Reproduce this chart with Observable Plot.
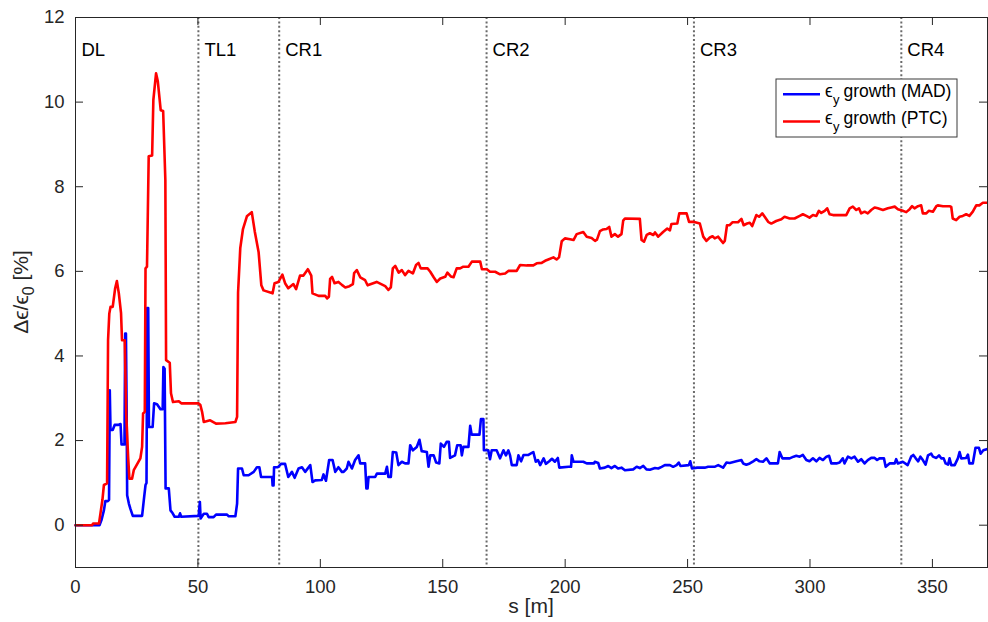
<!DOCTYPE html>
<html>
<head>
<meta charset="utf-8">
<script src="https://cdn.jsdelivr.net/npm/d3@7"></script>
<script src="https://cdn.jsdelivr.net/npm/@observablehq/plot@0.6"></script>
<style>
  html, body { margin: 0; padding: 0; background: #fff; }
  #chart { position: relative; width: 988px; height: 622px; }
</style>
</head>
<body>
<div id="chart"></div>
<script>
// ---- data ----
const xTicks = [0, 50, 100, 150, 200, 250, 300, 350];
const yTicks = [0, 2, 4, 6, 8, 10, 12];

const regionNames = ["DL", "TL1", "CR1", "CR2", "CR3", "CR4"];
const regionStarts = [0, 50.2, 83.2, 167.9, 252.6, 337.3];

const seriesNames = ["growth (MAD)", "growth (PTC)"];

// epsilon_y growth (MAD) — blue
const madS = [0, 9.8, 10.6, 11.6, 12.2, 13.2, 13.7, 14.0, 14.3, 14.6, 15.2, 16.0, 17.4, 18.4, 18.8, 20.0, 20.3, 20.6, 20.9, 21.1, 21.8, 22.4, 23.4, 27.2, 27.9, 28.6, 29.0, 29.3, 29.7, 30.0, 31.5, 32.1, 33.3, 34.7, 35.6, 35.9, 36.4, 36.8, 38.1, 38.8, 39.7, 40.5, 42.2, 42.7, 43.2, 50.3, 50.8, 51.1, 52.4, 53.7, 54.4, 56.4, 57.4, 61.9, 62.6, 65.3, 66.0, 66.4, 68.0, 68.7, 70.7, 72.8, 74.1, 75.1, 75.8, 79.5, 80.3, 80.5, 80.9, 81.1, 82.7, 84.0, 85.6, 86.9, 88.4, 89.5, 91.1, 92.5, 93.8, 95.9, 96.8, 97.9, 100.6, 101.3, 102.3, 103.6, 105.0, 106.1, 107.4, 108.8, 109.5, 110.8, 111.5, 112.9, 114.2, 115.6, 116.3, 118.3, 118.8, 119.3, 119.7, 122.4, 123.1, 126.5, 127.2, 127.8, 128.8, 129.6, 131.0, 131.9, 133.3, 134.6, 136.0, 136.7, 137.8, 139.4, 140.5, 141.4, 143.5, 144.2, 144.9, 146.3, 147.3, 148.6, 149.2, 150.5, 151.6, 152.5, 153.0, 155.0, 155.9, 157.3, 157.8, 158.4, 160.5, 161.2, 161.8, 165.0, 165.6, 166.6, 166.8, 168.6, 169.3, 170.0, 172.0, 173.4, 174.8, 175.8, 176.8, 177.5, 178.2, 180.2, 180.9, 182.0, 183.0, 185.0, 187.0, 188.0, 188.9, 189.8, 191.2, 192.1, 193.5, 194.6, 195.8, 197.0, 197.6, 201.4, 202.4, 202.7, 203.4, 207.4, 208.8, 211.8, 212.1, 213.5, 214.2, 216.2, 217.6, 218.9, 220.3, 221.6, 223.0, 224.4, 227.8, 229.2, 230.5, 231.9, 233.2, 234.6, 236.7, 238.0, 239.4, 240.7, 242.8, 244.1, 245.5, 246.4, 247.1, 250.5, 251.1, 251.8, 253.9, 257.0, 258.4, 261.0, 262.5, 264.5, 265.9, 267.2, 269.9, 272.0, 272.7, 274.0, 275.4, 276.8, 278.1, 279.4, 280.8, 282.2, 283.6, 286.9, 287.6, 288.7, 291.7, 293.3, 294.4, 295.8, 297.1, 298.5, 299.8, 301.2, 302.6, 303.9, 305.3, 306.7, 307.8, 308.7, 310.8, 312.1, 313.4, 314.1, 315.5, 316.9, 318.2, 319.6, 320.9, 322.3, 323.6, 325.0, 326.4, 327.4, 328.4, 330.2, 330.9, 332.5, 334.6, 335.2, 335.9, 337.9, 339.9, 341.3, 342.2, 343.2, 344.2, 345.1, 346.1, 347.2, 348.2, 349.5, 350.2, 351.6, 352.7, 353.6, 354.6, 355.4, 356.4, 357.0, 357.7, 359.1, 360.4, 361.1, 361.8, 363.8, 364.5, 365.1, 366.5, 367.6, 369.0, 369.7, 370.8, 372.5];
const madY = [0, 0, 0.12, 0.35, 0.57, 0.57, 0.6, 3.19, 2.25, 2.25, 2.25, 2.37, 2.37, 2.39, 1.91, 1.91, 4.53, 4.53, 2.64, 0.71, 0.51, 0.39, 0.22, 0.22, 0.59, 0.95, 1.0, 5.13, 5.13, 2.32, 2.32, 2.88, 2.86, 2.74, 2.74, 3.74, 3.70, 0.87, 0.87, 0.35, 0.28, 0.20, 0.20, 0.28, 0.20, 0.22, 0.55, 0.16, 0.27, 0.27, 0.19, 0.19, 0.25, 0.25, 0.21, 0.21, 0.51, 1.34, 1.34, 1.18, 1.18, 1.26, 1.37, 1.37, 1.14, 1.14, 1.14, 0.94, 0.94, 1.37, 1.37, 1.45, 1.45, 1.14, 1.26, 1.12, 1.34, 1.37, 1.26, 1.42, 1.02, 1.06, 1.07, 1.20, 1.05, 1.54, 1.54, 1.26, 1.37, 1.26, 1.26, 1.34, 1.50, 1.34, 1.54, 1.65, 1.46, 1.46, 0.87, 0.87, 1.14, 1.14, 1.22, 1.22, 1.38, 1.14, 1.14, 1.73, 1.72, 1.42, 1.50, 1.46, 1.46, 1.89, 1.77, 1.85, 2.02, 1.75, 1.73, 1.38, 1.65, 1.65, 1.48, 1.46, 1.93, 1.85, 1.97, 1.97, 1.59, 1.65, 1.89, 1.89, 1.65, 1.85, 1.85, 2.35, 2.14, 2.14, 2.51, 2.51, 1.77, 1.77, 1.56, 1.77, 1.77, 1.58, 1.77, 1.65, 1.77, 1.65, 1.42, 1.42, 1.65, 1.51, 1.66, 1.66, 1.73, 1.50, 1.54, 1.42, 1.58, 1.45, 1.51, 1.57, 1.50, 1.59, 1.36, 1.38, 1.38, 1.65, 1.50, 1.50, 1.46, 1.46, 1.50, 1.47, 1.34, 1.36, 1.40, 1.35, 1.40, 1.34, 1.36, 1.30, 1.32, 1.38, 1.35, 1.40, 1.32, 1.31, 1.35, 1.34, 1.38, 1.42, 1.42, 1.38, 1.42, 1.48, 1.40, 1.42, 1.51, 1.34, 1.36, 1.36, 1.38, 1.38, 1.42, 1.36, 1.48, 1.47, 1.51, 1.54, 1.46, 1.43, 1.46, 1.51, 1.56, 1.51, 1.50, 1.58, 1.46, 1.46, 1.73, 1.58, 1.58, 1.62, 1.64, 1.62, 1.66, 1.54, 1.51, 1.58, 1.51, 1.59, 1.54, 1.62, 1.64, 1.46, 1.46, 1.48, 1.58, 1.46, 1.62, 1.58, 1.62, 1.50, 1.56, 1.46, 1.54, 1.59, 1.59, 1.54, 1.58, 1.58, 1.38, 1.46, 1.46, 1.56, 1.46, 1.50, 1.42, 1.62, 1.66, 1.58, 1.51, 1.62, 1.54, 1.43, 1.65, 1.69, 1.62, 1.59, 1.65, 1.58, 1.58, 1.46, 1.43, 1.58, 1.42, 1.42, 1.58, 1.73, 1.58, 1.59, 1.67, 1.46, 1.46, 1.83, 1.83, 1.69, 1.77, 1.80];

// epsilon_y growth (PTC) — red
const ptcS = [0, 6.8, 7.2, 9.6, 10.2, 11.0, 11.6, 12.9, 13.3, 13.8, 14.3, 15.2, 16.2, 16.9, 17.7, 18.6, 19.0, 20.1, 20.7, 21.5, 22.0, 23.1, 23.8, 26.5, 27.2, 27.6, 28.3, 28.6, 29.2, 29.9, 31.3, 31.8, 32.9, 33.6, 34.8, 35.8, 36.7, 37.0, 38.5, 39.0, 39.8, 42.2, 43.2, 50.3, 51.0, 51.7, 52.4, 55.0, 57.4, 61.2, 65.3, 66.0, 66.4, 67.3, 68.4, 70.0, 72.0, 73.2, 74.8, 75.9, 76.8, 80.5, 81.3, 82.9, 84.5, 85.6, 86.9, 89.0, 90.1, 91.7, 93.1, 94.9, 96.3, 96.8, 99.3, 102.0, 102.8, 103.5, 104.0, 104.8, 105.8, 107.4, 108.8, 110.2, 111.9, 113.3, 113.8, 114.9, 116.3, 118.3, 119.3, 123.0, 126.5, 127.8, 128.8, 129.6, 130.6, 132.0, 133.3, 134.6, 136.0, 137.8, 139.1, 140.1, 141.0, 143.8, 144.9, 146.3, 147.6, 149.0, 151.0, 151.9, 153.3, 154.4, 155.7, 157.1, 158.4, 160.5, 161.9, 165.3, 166.0, 168.0, 169.3, 171.4, 173.4, 175.5, 176.8, 180.2, 181.6, 184.3, 187.0, 188.4, 190.4, 191.8, 193.1, 195.2, 196.5, 197.5, 198.6, 199.9, 202.0, 203.4, 204.7, 207.4, 208.8, 210.8, 212.2, 213.0, 214.2, 215.5, 216.9, 218.0, 218.9, 220.3, 221.6, 223.0, 223.7, 224.4, 230.5, 231.2, 232.2, 233.3, 234.6, 236.0, 236.7, 238.0, 240.0, 241.7, 242.8, 243.4, 245.8, 246.6, 249.6, 250.6, 252.3, 255.0, 256.4, 257.7, 259.1, 260.2, 261.1, 262.5, 263.4, 264.5, 265.2, 266.1, 267.2, 268.3, 270.6, 272.0, 272.9, 274.3, 275.4, 276.4, 278.1, 279.2, 280.5, 281.5, 282.9, 284.2, 286.2, 288.3, 289.6, 291.7, 293.7, 295.8, 297.1, 298.5, 299.8, 301.2, 302.6, 303.6, 304.6, 306.0, 307.0, 308.0, 309.4, 314.8, 316.2, 317.5, 318.9, 320.0, 320.9, 322.3, 323.6, 325.0, 326.4, 327.7, 329.8, 331.8, 333.2, 334.6, 335.9, 337.9, 339.3, 340.7, 341.7, 342.7, 344.1, 345.4, 346.1, 347.5, 348.5, 350.2, 351.6, 352.2, 354.3, 357.0, 357.7, 358.3, 359.7, 361.1, 362.4, 363.8, 365.1, 366.5, 367.9, 369.2, 370.6, 372.5];
const ptcY = [0, 0, 0.04, 0.04, 0.28, 0.6, 0.95, 0.99, 4.37, 5.0, 5.16, 5.16, 5.6, 5.77, 5.48, 5.01, 4.37, 4.37, 2.64, 1.61, 1.10, 1.10, 1.30, 1.58, 1.85, 2.64, 2.68, 6.07, 6.11, 8.72, 8.74, 10.05, 10.68, 10.5, 9.81, 9.79, 8.16, 3.9, 3.84, 3.12, 2.91, 2.93, 2.88, 2.88, 2.84, 2.68, 2.44, 2.48, 2.40, 2.41, 2.44, 2.56, 5.5, 6.55, 7.0, 7.3, 7.4, 6.95, 6.45, 5.67, 5.55, 5.48, 5.72, 5.75, 5.92, 5.72, 5.6, 5.7, 5.58, 5.9, 5.9, 6.05, 5.9, 5.48, 5.42, 5.42, 5.36, 5.4, 5.82, 5.87, 5.72, 5.75, 5.68, 5.62, 5.65, 5.70, 5.96, 6.03, 5.86, 5.79, 5.67, 5.75, 5.65, 5.56, 5.62, 6.07, 6.13, 5.97, 6.03, 5.91, 6.01, 5.95, 6.15, 6.20, 6.07, 6.07, 5.99, 5.86, 5.75, 5.83, 5.87, 5.97, 5.88, 5.86, 6.07, 6.07, 6.11, 6.11, 6.23, 6.23, 6.05, 6.05, 5.99, 5.99, 5.93, 5.95, 6.01, 6.01, 6.15, 6.14, 6.14, 6.19, 6.20, 6.25, 6.28, 6.33, 6.28, 6.33, 6.71, 6.78, 6.76, 6.74, 6.88, 6.93, 6.82, 6.79, 6.72, 6.75, 6.95, 6.99, 7.0, 7.05, 6.82, 6.88, 6.82, 6.88, 7.20, 7.25, 7.24, 6.74, 6.70, 6.86, 6.90, 6.86, 6.92, 6.82, 6.93, 7.01, 6.97, 7.12, 7.13, 7.37, 7.37, 7.17, 7.17, 7.13, 6.82, 6.72, 6.80, 6.83, 6.78, 6.82, 6.75, 6.67, 6.72, 7.09, 7.09, 7.16, 7.16, 7.24, 7.09, 7.13, 7.15, 7.07, 7.33, 7.29, 7.37, 7.29, 7.17, 7.13, 7.19, 7.23, 7.29, 7.25, 7.25, 7.31, 7.35, 7.31, 7.27, 7.33, 7.31, 7.43, 7.38, 7.43, 7.49, 7.35, 7.33, 7.33, 7.49, 7.53, 7.45, 7.49, 7.37, 7.41, 7.37, 7.45, 7.51, 7.49, 7.45, 7.49, 7.51, 7.53, 7.47, 7.43, 7.40, 7.47, 7.54, 7.49, 7.54, 7.56, 7.37, 7.37, 7.43, 7.41, 7.54, 7.56, 7.54, 7.54, 7.52, 7.25, 7.21, 7.29, 7.31, 7.35, 7.31, 7.41, 7.56, 7.56, 7.62, 7.62];

// ---- build ----
const mad = madS.map((s, i) => ({s, v: madY[i]}));
const ptc = ptcS.map((s, i) => ({s, v: ptcY[i]}));
const regions = regionNames.map((name, i) => ({name, s: regionStarts[i]}));
const bounds = regionStarts.slice(1);

const W = 988, H = 622;
const mL = 75, mR = 1, mT = 17, mB = 55;
const frameW = W - mL - mR, frameH = H - mT - mB;
const tickLen = 8;
const axisColor = "#262626";
const font = "'Liberation Sans', Arial, Helvetica, sans-serif";

const chart = Plot.plot({
  width: W, height: H,
  marginLeft: mL, marginRight: mR, marginTop: mT, marginBottom: mB,
  x: {domain: [0, 372.5]},
  y: {domain: [-1, 12]},
  style: {fontFamily: font, fontSize: "18.5px", color: axisColor, background: "#fff"},
  marks: [
    Plot.ruleX(bounds, {stroke: "#6a6a6a", strokeWidth: 2, strokeDasharray: "2,2.4"}),
    Plot.line(mad, {x: "s", y: "v", stroke: "#0000ff", strokeWidth: 2.6}),
    Plot.line(ptc, {x: "s", y: "v", stroke: "#ff0000", strokeWidth: 2.6}),
    Plot.frame({stroke: axisColor, strokeWidth: 1}),
    Plot.ruleX(xTicks, {stroke: axisColor, insetTop: frameH - tickLen}),
    Plot.ruleX(xTicks, {stroke: axisColor, insetBottom: frameH - tickLen}),
    Plot.ruleY(yTicks, {stroke: axisColor, insetRight: frameW - tickLen}),
    Plot.ruleY(yTicks, {stroke: axisColor, insetLeft: frameW - tickLen}),
    Plot.axisX({ticks: xTicks, tickSize: 0, tickPadding: 12, fontSize: 18.5, label: null, tickFormat: d => String(d)}),
    Plot.axisY({ticks: yTicks, tickSize: 0, tickPadding: 11, fontSize: 18.5, label: null, tickFormat: d => String(d)}),
    Plot.text(regions, {x: "s", text: "name", frameAnchor: "top", dy: 25.5, dx: 6, textAnchor: "start", fontSize: 18.5, fill: "#000"})
  ]
});

document.getElementById("chart").appendChild(chart);

const svg = d3.select(chart);

// axis labels
svg.append("text")
  .attr("x", (mL + W - mR) / 2).attr("y", 613)
  .attr("text-anchor", "middle")
  .attr("font-size", 21).attr("fill", axisColor).attr("font-family", font)
  .text("s [m]");

const yl = svg.append("text")
  .attr("transform", `translate(28,${mT + frameH / 2}) rotate(-90)`)
  .attr("text-anchor", "middle")
  .attr("font-size", 21).attr("fill", axisColor).attr("font-family", font);
yl.append("tspan").text("Δϵ/ϵ");
yl.append("tspan").attr("dy", 6).attr("font-size", 16).text("0");
yl.append("tspan").attr("dy", -6).text(" [%]");

// legend
const lg = svg.append("g").attr("font-family", font).attr("font-size", 17.5)
  .attr("fill", "#000").attr("text-anchor", "start");
lg.append("rect").attr("x", 776).attr("y", 79).attr("width", 181).attr("height", 58)
  .attr("fill", "#fff").attr("stroke", "#3a3a3a").attr("stroke-width", 1);
const legendColors = ["#0000ff", "#ff0000"];
seriesNames.forEach((name, i) => {
  const cy = 94.3 + i * 27.2;
  lg.append("line").attr("x1", 783).attr("x2", 820).attr("y1", cy).attr("y2", cy)
    .attr("stroke", legendColors[i]).attr("stroke-width", 2.6);
  const t = lg.append("text").attr("text-anchor", "start").attr("y", cy + 2.7);
  t.append("tspan").attr("x", 825).text("ϵ");
  t.append("tspan").attr("x", 833).attr("dy", 7).attr("font-size", 13).text("y");
  t.append("tspan").attr("x", 843.5).attr("dy", -7).text(name);
});
</script>
</body>
</html>
